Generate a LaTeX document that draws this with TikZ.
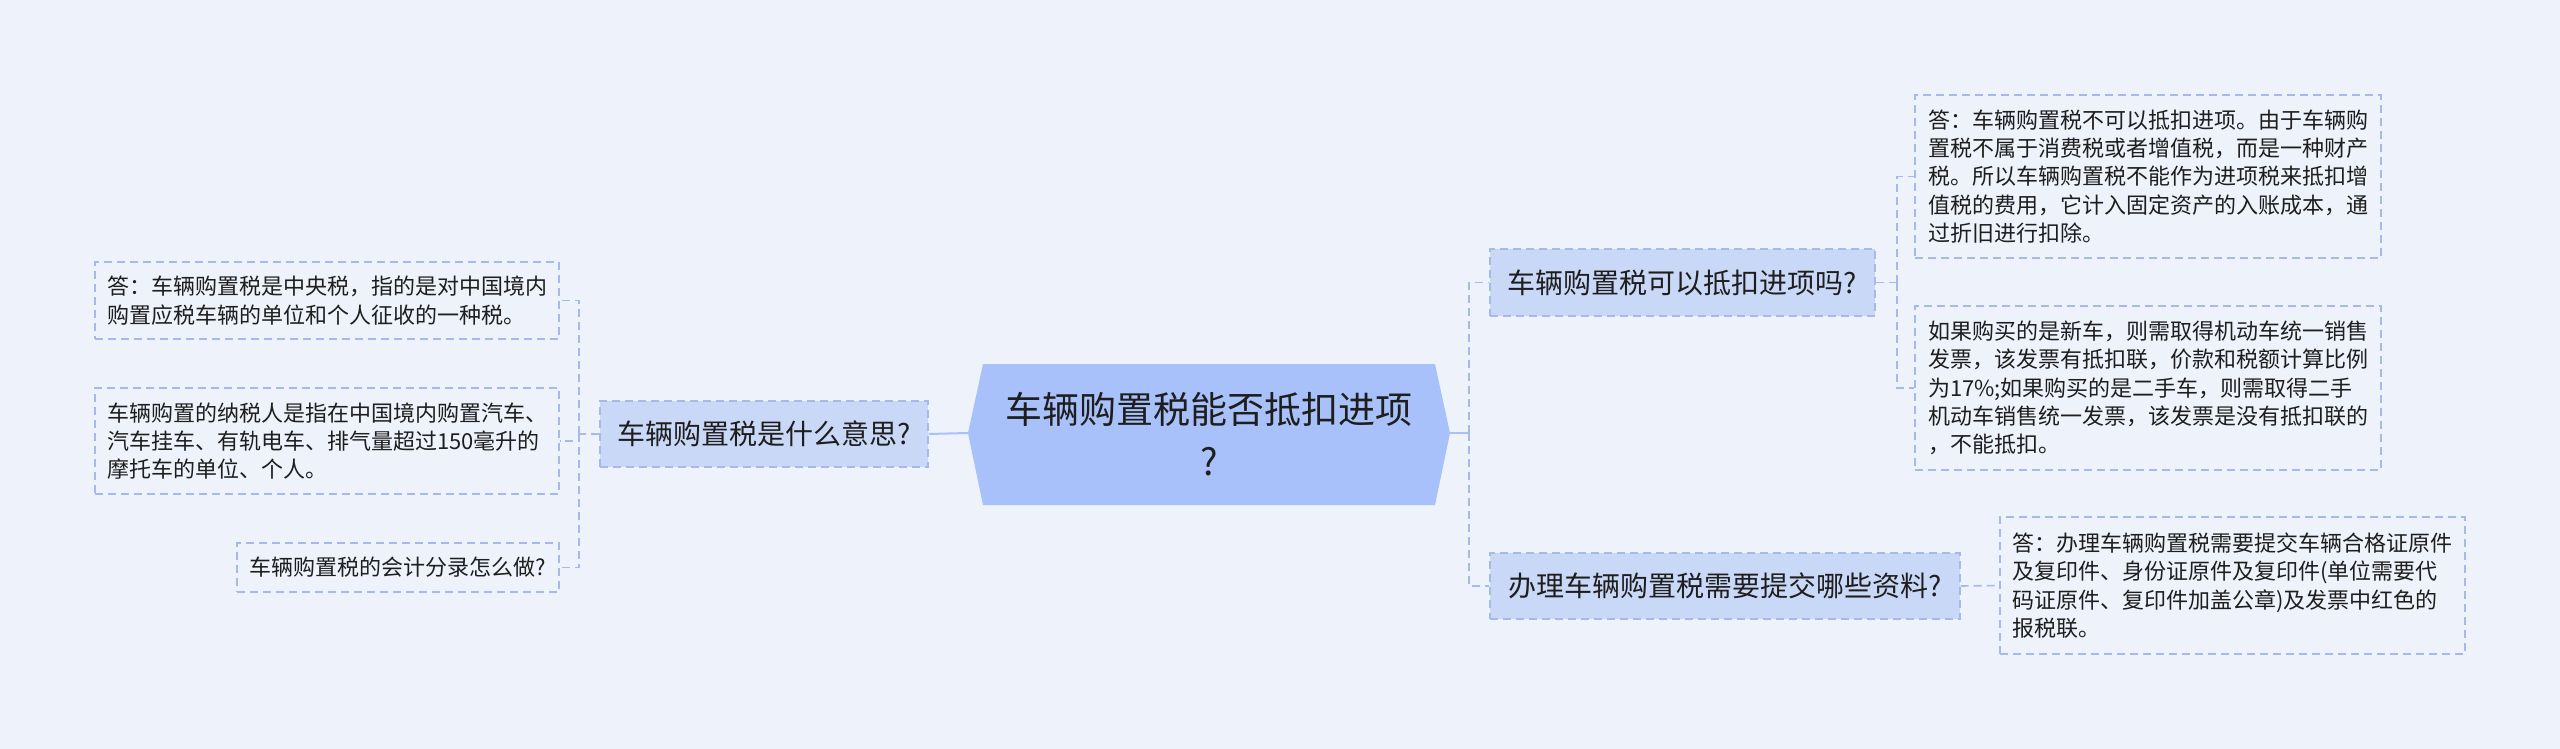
\documentclass[tikz,border=0pt]{standalone}
\usepackage{fontspec}
\setmainfont{Noto Sans CJK SC}
\definecolor{bgc}{HTML}{EEF2FB}
\definecolor{mainfill}{HTML}{A9C1FA}
\definecolor{l1fill}{HTML}{CAD8F8}
\definecolor{leaffill}{HTML}{EEF2FB}
\definecolor{linec}{HTML}{A6BAEA}
\definecolor{solidc}{HTML}{A9C1FA}
\definecolor{textc}{HTML}{1E1E1E}
\tikzset{
  dsh/.style={dash pattern=on 8pt off 5pt},
  lvlone/.style={draw=linec, dsh, line width=1.4pt, fill=l1fill, text=textc,
    font=\fontsize{28}{34}\selectfont, inner sep=0pt},
  leafbox/.style={draw=linec, dsh, line width=1.4pt, fill=leaffill, text=textc,
    font=\fontsize{22}{28.3}\selectfont, align=left, inner sep=0pt},
  conn/.style={draw=linec, dsh, line width=1.6pt},
  solidconn/.style={draw=solidc, line width=2pt},
}
\begin{document}
\begin{tikzpicture}[x=1pt,y=-1pt]
\useasboundingbox (0,0) rectangle (2560,749);
\fill[bgc] (0,0) rectangle (2560,749);

% central hexagon
\coordinate (cL) at (968,433);
\coordinate (cR) at (1450,433);
\fill[mainfill] (983,364) -- (1435,364) -- (cR) -- (1435,505) -- (983,505) -- (cL) -- cycle;
\node[align=center, text=textc, font=\fontsize{37}{52}\selectfont, inner sep=0pt] (main) at (1209,434)
  {车辆购置税能否抵扣进项\\?};

% level one nodes
\node[lvlone, minimum width=328pt, minimum height=66pt] (L1) at (764,434) {车辆购置税是什么意思?};
\node[lvlone, minimum width=385pt, minimum height=67pt] (R1) at (1682.5,282.5) {车辆购置税可以抵扣进项吗?};
\node[lvlone, minimum width=470pt, minimum height=66pt] (R2) at (1725,586) {办理车辆购置税需要提交哪些资料?};

% leaves left
\node[leafbox, minimum width=464pt, minimum height=77pt] (LA) at (327,300.5)
  {答：车辆购置税是中央税，指的是对中国境内\\购置应税车辆的单位和个人征收的一种税。};
\node[leafbox, minimum width=464pt, minimum height=106pt] (LB) at (327,441)
  {车辆购置的纳税人是指在中国境内购置汽车、\\汽车挂车、有轨电车、排气量超过150毫升的\\摩托车的单位、个人。};
\node[leafbox, minimum width=322pt, minimum height=49pt] (LC) at (398,567.5)
  {车辆购置税的会计分录怎么做?};

% leaves right
\node[leafbox, minimum width=466pt, minimum height=163pt] (RA) at (2148,176.5)
  {答：车辆购置税不可以抵扣进项。由于车辆购\\置税不属于消费税或者增值税，而是一种财产\\税。所以车辆购置税不能作为进项税来抵扣增\\值税的费用，它计入固定资产的入账成本，通\\过折旧进行扣除。};
\node[leafbox, minimum width=466pt, minimum height=164pt] (RB) at (2148,388)
  {如果购买的是新车，则需取得机动车统一销售\\发票，该发票有抵扣联，价款和税额计算比例\\为17\%;如果购买的是二手车，则需取得二手\\机动车销售统一发票，该发票是没有抵扣联的\\，不能抵扣。};
\node[leafbox, minimum width=465pt, minimum height=137pt] (RC) at (2232.5,585.5)
  {答：办理车辆购置税需要提交车辆合格证原件\\及复印件、身份证原件及复印件(单位需要代\\码证原件、复印件加盖公章)及发票中红色的\\报税联。};

% connectors: centre to level one
\draw[solidconn] (cL) -- (L1.east);
\coordinate (rj) at (1469,433);
\draw[solidconn] (cR) -- (rj);
\draw[conn] (rj) |- (R1.west);
\draw[conn] (rj) |- (R2.west);

% left bracket
\coordinate (lj) at (579,434);
\draw[conn] (L1.west) -- (lj);
\draw[conn] (lj) |- (LA.east);
\draw[conn] (lj) |- (LB.east);
\draw[conn] (lj) |- (LC.east);

% right bracket R1
\coordinate (r1j) at (1897,282.5);
\draw[conn] (R1.east) -- (r1j);
\draw[conn] (r1j) |- (RA.west);
\draw[conn] (r1j) |- (RB.west);

% R2 to leaf
\draw[conn] (R2.east) -- (RC.west);
\end{tikzpicture}
\end{document}
